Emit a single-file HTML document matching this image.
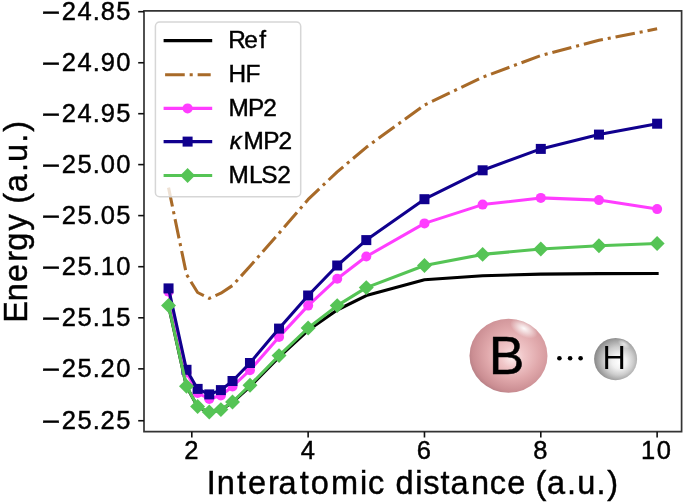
<!DOCTYPE html>
<html><head><meta charset="utf-8"><title>Energy vs interatomic distance</title>
<style>html,body{margin:0;padding:0;background:#fff;overflow:hidden}svg{display:block;will-change:transform}text{font-family:"Liberation Sans",sans-serif;stroke:#000;stroke-width:.45px}</style>
</head><body>
<svg width="685" height="502" viewBox="0 0 685 502" font-family="Liberation Sans, sans-serif" fill="#000"><defs><clipPath id="ax"><rect x="144" y="11" width="537.6" height="420.6"/></clipPath><radialGradient id="gB" cx="0.58" cy="0.42" r="0.68" fx="0.54" fy="0.54"><stop offset="0" stop-color="#fcecec"/><stop offset="0.22" stop-color="#f0c6c8"/><stop offset="0.5" stop-color="#e0a8ab"/><stop offset="0.78" stop-color="#cb8e93"/><stop offset="1" stop-color="#a47278"/></radialGradient><radialGradient id="gBh" cx="0.5" cy="0.5" r="0.5"><stop offset="0" stop-color="#fff" stop-opacity="0.95"/><stop offset="0.45" stop-color="#fff" stop-opacity="0.55"/><stop offset="1" stop-color="#fff" stop-opacity="0"/></radialGradient><radialGradient id="gH" cx="0.56" cy="0.52" r="0.56" fx="0.6" fy="0.58"><stop offset="0" stop-color="#ffffff"/><stop offset="0.3" stop-color="#f1f1f1"/><stop offset="0.6" stop-color="#cdcdcd"/><stop offset="0.86" stop-color="#a0a0a0"/><stop offset="1" stop-color="#868686"/></radialGradient></defs><g clip-path="url(#ax)" fill="none" stroke-linejoin="round"><polyline points="168.54,305.80 186.50,386.60 197.62,406.80 209.26,412.30 220.89,409.90 232.52,402.40 249.97,386.60 279.05,357.20 308.14,330.30 337.22,310.00 366.30,295.60 424.47,279.80 482.63,275.70 540.80,274.10 598.96,273.60 657.13,273.50" stroke="#000" stroke-width="3.07" stroke-linecap="square"/><polyline points="168.54,187.60 186.50,274.50 197.62,292.50 209.26,298.40 220.89,293.20 232.52,285.50 249.97,266.30 279.05,233.30 308.14,199.40 337.22,171.90 366.30,147.30 424.47,105.00 482.63,77.20 540.80,55.50 598.96,40.20 657.13,28.80" stroke="#a86a28" stroke-width="3.07" stroke-dasharray="19.65 4.91 3.07 4.91" stroke-dashoffset="0.4"/><polyline points="168.54,291.60 186.50,372.50 197.62,393.00 209.26,399.00 220.89,395.50 232.52,386.50 249.97,370.20 279.05,336.90 308.14,305.60 337.22,278.70 366.30,256.50 424.47,223.40 482.63,204.60 540.80,197.90 598.96,200.10 657.13,209.10" stroke="#ff3dff" stroke-width="3.07"/></g><g><circle cx="168.54" cy="291.60" r="5.00" fill="#ff3dff"/><circle cx="186.50" cy="372.50" r="5.00" fill="#ff3dff"/><circle cx="197.62" cy="393.00" r="5.00" fill="#ff3dff"/><circle cx="209.26" cy="399.00" r="5.00" fill="#ff3dff"/><circle cx="220.89" cy="395.50" r="5.00" fill="#ff3dff"/><circle cx="232.52" cy="386.50" r="5.00" fill="#ff3dff"/><circle cx="249.97" cy="370.20" r="5.00" fill="#ff3dff"/><circle cx="279.05" cy="336.90" r="5.00" fill="#ff3dff"/><circle cx="308.14" cy="305.60" r="5.00" fill="#ff3dff"/><circle cx="337.22" cy="278.70" r="5.00" fill="#ff3dff"/><circle cx="366.30" cy="256.50" r="5.00" fill="#ff3dff"/><circle cx="424.47" cy="223.40" r="5.00" fill="#ff3dff"/><circle cx="482.63" cy="204.60" r="5.00" fill="#ff3dff"/><circle cx="540.80" cy="197.90" r="5.00" fill="#ff3dff"/><circle cx="598.96" cy="200.10" r="5.00" fill="#ff3dff"/><circle cx="657.13" cy="209.10" r="5.00" fill="#ff3dff"/></g><g fill="none" stroke-linejoin="round"><polyline points="168.54,288.40 186.50,369.80 197.62,388.90 209.26,394.40 220.89,390.10 232.52,381.00 249.97,363.00 279.05,328.60 308.14,295.50 337.22,265.50 366.30,240.10 424.47,199.20 482.63,170.30 540.80,148.90 598.96,134.60 657.13,123.70" stroke="#10008e" stroke-width="3.07"/></g><g><rect x="163.54" y="283.40" width="10.00" height="10.00" fill="#10008e"/><rect x="181.50" y="364.80" width="10.00" height="10.00" fill="#10008e"/><rect x="192.62" y="383.90" width="10.00" height="10.00" fill="#10008e"/><rect x="204.26" y="389.40" width="10.00" height="10.00" fill="#10008e"/><rect x="215.89" y="385.10" width="10.00" height="10.00" fill="#10008e"/><rect x="227.52" y="376.00" width="10.00" height="10.00" fill="#10008e"/><rect x="244.97" y="358.00" width="10.00" height="10.00" fill="#10008e"/><rect x="274.05" y="323.60" width="10.00" height="10.00" fill="#10008e"/><rect x="303.14" y="290.50" width="10.00" height="10.00" fill="#10008e"/><rect x="332.22" y="260.50" width="10.00" height="10.00" fill="#10008e"/><rect x="361.30" y="235.10" width="10.00" height="10.00" fill="#10008e"/><rect x="419.47" y="194.20" width="10.00" height="10.00" fill="#10008e"/><rect x="477.63" y="165.30" width="10.00" height="10.00" fill="#10008e"/><rect x="535.80" y="143.90" width="10.00" height="10.00" fill="#10008e"/><rect x="593.96" y="129.60" width="10.00" height="10.00" fill="#10008e"/><rect x="652.13" y="118.70" width="10.00" height="10.00" fill="#10008e"/></g><g fill="none" stroke-linejoin="round"><polyline points="168.54,305.50 186.50,386.30 197.62,406.50 209.26,412.00 220.89,409.60 232.52,402.00 249.97,385.20 279.05,355.60 308.14,328.00 337.22,305.60 366.30,287.60 424.47,265.50 482.63,254.40 540.80,249.00 598.96,245.80 657.13,243.50" stroke="#55c455" stroke-width="3.07"/></g><g><path d="M168.54 298.03L176.01 305.50L168.54 312.97L161.07 305.50Z" fill="#55c455"/><path d="M186.50 378.83L193.97 386.30L186.50 393.77L179.03 386.30Z" fill="#55c455"/><path d="M197.62 399.03L205.09 406.50L197.62 413.97L190.15 406.50Z" fill="#55c455"/><path d="M209.26 404.53L216.73 412.00L209.26 419.47L201.78 412.00Z" fill="#55c455"/><path d="M220.89 402.13L228.36 409.60L220.89 417.07L213.42 409.60Z" fill="#55c455"/><path d="M232.52 394.53L239.99 402.00L232.52 409.47L225.05 402.00Z" fill="#55c455"/><path d="M249.97 377.73L257.44 385.20L249.97 392.67L242.50 385.20Z" fill="#55c455"/><path d="M279.05 348.13L286.52 355.60L279.05 363.07L271.58 355.60Z" fill="#55c455"/><path d="M308.14 320.53L315.61 328.00L308.14 335.47L300.66 328.00Z" fill="#55c455"/><path d="M337.22 298.13L344.69 305.60L337.22 313.07L329.75 305.60Z" fill="#55c455"/><path d="M366.30 280.13L373.77 287.60L366.30 295.07L358.83 287.60Z" fill="#55c455"/><path d="M424.47 258.03L431.94 265.50L424.47 272.97L417.00 265.50Z" fill="#55c455"/><path d="M482.63 246.93L490.10 254.40L482.63 261.87L475.16 254.40Z" fill="#55c455"/><path d="M540.80 241.53L548.27 249.00L540.80 256.47L533.33 249.00Z" fill="#55c455"/><path d="M598.96 238.33L606.43 245.80L598.96 253.27L591.49 245.80Z" fill="#55c455"/><path d="M657.13 236.03L664.60 243.50L657.13 250.97L649.65 243.50Z" fill="#55c455"/></g><ellipse cx="508.5" cy="355.7" rx="39" ry="37" fill="url(#gB)"/><ellipse cx="0" cy="0" rx="15" ry="8" fill="url(#gBh)" transform="translate(524,328.5) rotate(28)"/><text x="488.78" y="374.0" font-size="53.5" fill="#000" stroke="#000" stroke-width="0.5">B</text><circle cx="559.4" cy="358.2" r="2.3" fill="#000"/><circle cx="570.1" cy="358.2" r="2.3" fill="#000"/><circle cx="580.6" cy="358.2" r="2.3" fill="#000"/><ellipse cx="615.6" cy="359.1" rx="21.5" ry="21.1" fill="url(#gH)"/><ellipse cx="0" cy="0" rx="7" ry="3.6" fill="url(#gBh)" opacity="0.7" transform="translate(624,344) rotate(32)"/><text x="602.61" y="368.7" font-size="32.3" fill="#000" style="stroke-width:0">H</text><path d="M144 431.7V10.8H681.6V431.7H144Z" fill="none" stroke="#333" stroke-width="1.7" stroke-linejoin="miter"/><line x1="138.2" y1="11.70" x2="144" y2="11.70" stroke="#111" stroke-width="1.6"/><text transform="translate(43.5,20.63) scale(1.235,1)" x="-1.26" y="0" font-size="25.5">−</text><text x="61.70 77.55 92.73 100.83 116.26" y="19.80" font-size="25.5">24.85</text><line x1="138.2" y1="62.76" x2="144" y2="62.76" stroke="#111" stroke-width="1.6"/><text transform="translate(43.5,71.69) scale(1.235,1)" x="-1.26" y="0" font-size="25.5">−</text><text x="61.70 77.55 92.73 100.75 116.35" y="70.86" font-size="25.5">24.90</text><line x1="138.2" y1="113.70" x2="144" y2="113.70" stroke="#111" stroke-width="1.6"/><text transform="translate(43.5,122.63) scale(1.235,1)" x="-1.26" y="0" font-size="25.5">−</text><text x="61.70 77.55 92.73 100.75 116.26" y="121.80" font-size="25.5">24.95</text><line x1="138.2" y1="164.60" x2="144" y2="164.60" stroke="#111" stroke-width="1.6"/><text transform="translate(43.5,173.53) scale(1.235,1)" x="-1.26" y="0" font-size="25.5">−</text><text x="61.70 77.45 92.73 100.83 116.35" y="172.70" font-size="25.5">25.00</text><line x1="138.2" y1="215.60" x2="144" y2="215.60" stroke="#111" stroke-width="1.6"/><text transform="translate(43.5,224.53) scale(1.235,1)" x="-1.26" y="0" font-size="25.5">−</text><text x="61.70 77.45 92.73 100.83 116.26" y="223.70" font-size="25.5">25.05</text><line x1="138.2" y1="266.70" x2="144" y2="266.70" stroke="#111" stroke-width="1.6"/><text transform="translate(43.5,275.63) scale(1.235,1)" x="-1.26" y="0" font-size="25.5">−</text><text x="61.70 77.45 92.73 100.70 116.35" y="274.80" font-size="25.5">25.10</text><line x1="138.2" y1="317.80" x2="144" y2="317.80" stroke="#111" stroke-width="1.6"/><text transform="translate(43.5,326.73) scale(1.235,1)" x="-1.26" y="0" font-size="25.5">−</text><text x="61.70 77.45 92.73 100.70 116.26" y="325.90" font-size="25.5">25.15</text><line x1="138.2" y1="368.85" x2="144" y2="368.85" stroke="#111" stroke-width="1.6"/><text transform="translate(43.5,377.78) scale(1.235,1)" x="-1.26" y="0" font-size="25.5">−</text><text x="61.70 77.45 92.73 100.51 116.35" y="376.95" font-size="25.5">25.20</text><line x1="138.2" y1="420.74" x2="144" y2="420.74" stroke="#111" stroke-width="1.6"/><text transform="translate(43.5,429.67) scale(1.235,1)" x="-1.26" y="0" font-size="25.5">−</text><text x="61.70 77.45 92.73 100.51 116.26" y="428.84" font-size="25.5">25.25</text><line x1="191.81" y1="431.7" x2="191.81" y2="437.5" stroke="#111" stroke-width="1.6"/><text x="184.22" y="458.80" font-size="25.5">2</text><line x1="308.14" y1="431.7" x2="308.14" y2="437.5" stroke="#111" stroke-width="1.6"/><text x="300.63" y="458.80" font-size="25.5">4</text><line x1="424.47" y1="431.7" x2="424.47" y2="437.5" stroke="#111" stroke-width="1.6"/><text x="416.79" y="458.80" font-size="25.5">6</text><line x1="540.80" y1="431.7" x2="540.80" y2="437.5" stroke="#111" stroke-width="1.6"/><text x="533.21" y="458.80" font-size="25.5">8</text><line x1="657.13" y1="431.7" x2="657.13" y2="437.5" stroke="#111" stroke-width="1.6"/><text x="641.11 656.76" y="458.80" font-size="25.5">10</text><text x="206.76 216.66 236.90 248.09 268.12 278.56 299.70 310.79 330.88 360.10 368.00 384.99 395.41 415.14 423.18 440.61 450.54 471.04 489.82 507.35 525.83 535.46 547.00 567.06 577.20 596.48 607.37" y="494.30" font-size="32.5">Interatomic distance (a.u.)</text><g transform="translate(26.9,318.5) rotate(-90)"><text x="-4.21 17.33 36.63 56.66 67.88 87.93 105.22 114.84 126.38 146.44 156.58 175.86 186.75" y="0.00" font-size="32.5">Energy (a.u.)</text></g><rect x="155.4" y="22.0" width="145.3" height="174.7" rx="4.3" fill="#fff" fill-opacity="0.8" stroke="#d6d6d6" stroke-width="1.5"/><line x1="163.6" y1="40.6" x2="212.2" y2="40.6" stroke="#000" stroke-width="3.07"/><line x1="165.1" y1="74.8" x2="210.7" y2="74.8" stroke="#a86a28" stroke-width="3.07" stroke-dasharray="19.65 4.91 3.07 4.91"/><line x1="163.6" y1="108.4" x2="212.2" y2="108.4" stroke="#ff3dff" stroke-width="3.07"/><circle cx="187.60" cy="108.40" r="5.00" fill="#ff3dff"/><line x1="163.6" y1="141.6" x2="212.2" y2="141.6" stroke="#10008e" stroke-width="3.07"/><rect x="182.60" y="136.60" width="10.00" height="10.00" fill="#10008e"/><line x1="163.6" y1="175.5" x2="212.2" y2="175.5" stroke="#55c455" stroke-width="3.07"/><path d="M187.60 168.03L195.07 175.50L187.60 182.97L180.13 175.50Z" fill="#55c455"/><text x="228.23 244.26 259.27" y="48.20" font-size="24.4">Ref</text><text x="228.51 245.43" y="81.90" font-size="24.4">HF</text><text x="228.47 248.11 263.32" y="115.60" font-size="24.4">MP2</text><text x="229.78" y="149.30" font-size="23.6" font-style="italic">κ</text><text x="243.57 263.21 278.42" y="149.30" font-size="24.4">MP2</text><text x="228.47 249.02 261.31 277.15" y="183.00" font-size="24.4">MLS2</text></svg>
</body></html>
